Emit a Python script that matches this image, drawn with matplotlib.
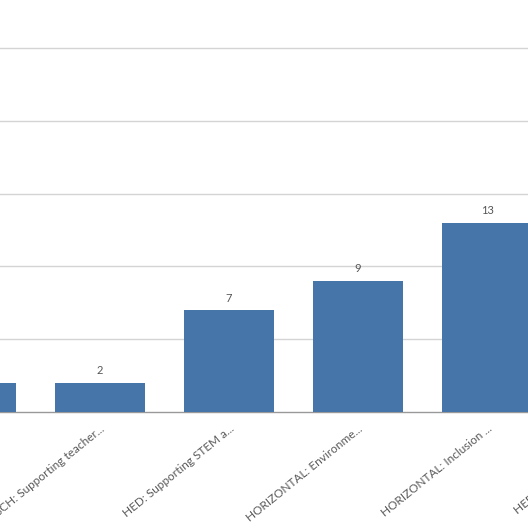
import matplotlib
matplotlib.use("Agg")
import matplotlib.pyplot as plt

categories = ["SCH: Supporting school...", "SCH: Supporting teacher...", "HED: Supporting STEM a...",
              "HORIZONTAL: Environme...", "HORIZONTAL: Inclusion ...", "HED: Supporting innova..."]
values = [2, 2, 7, 9, 13, 15]
grid_ticks = [5, 10, 15, 20, 25]

plt.rcParams['font.family'] = ['Lato', 'DejaVu Sans']

fig = plt.figure(figsize=(5.28, 5.28), dpi=100)
ax = fig.add_axes([0, 116/528, 1, 412/528])

x = list(range(len(categories)))
bars = ax.bar(x, values, width=0.7, color='#4676a9', zorder=3)
for xi, v in zip(x, values):
    ax.text(xi, v + 0.45, str(v), ha='center', va='bottom', fontsize=8, color='#555555', zorder=4)

ax.set_yticks(grid_ticks)
ax.yaxis.grid(True, color='#d4d4d4', linewidth=1, zorder=0)
ax.tick_params(axis='y', length=0, labelleft=False)
ax.set_xticks(x)
ax.set_xticklabels([])
ax.tick_params(axis='x', length=0)
for xi, lab in zip(x, categories):
    ax.annotate(lab, xy=(xi, 0), xycoords=('data', 'axes fraction'),
                xytext=(0, -8), textcoords='offset points',
                rotation=39, ha='right', va='top', rotation_mode='anchor',
                fontsize=8.5, color='#5a5a5a', annotation_clip=False)
ax.set_xlim(29/129, 557/129)
ax.set_ylim(0, 412/14.56)
for s in ['top', 'right', 'left']:
    ax.spines[s].set_visible(False)
ax.spines['bottom'].set_color('#999999')
ax.spines['bottom'].set_linewidth(1)
ax.set_axisbelow(True)

fig.savefig('out.png', dpi=100)
